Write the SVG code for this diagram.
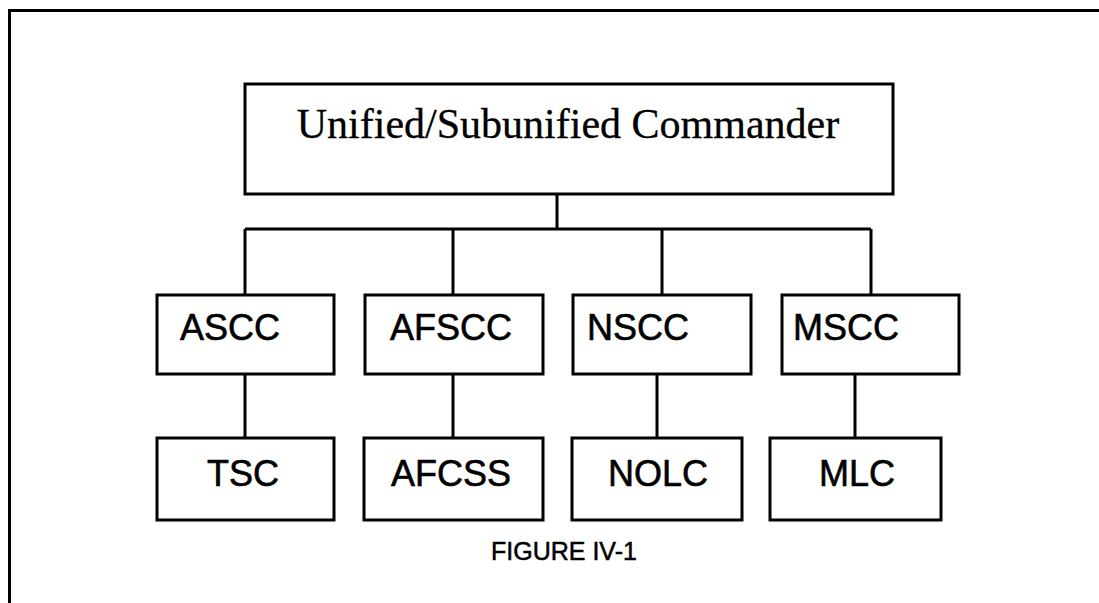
<svg xmlns="http://www.w3.org/2000/svg" width="1099" height="603" viewBox="0 0 1099 603">
<style>
.box{fill:#fff;stroke:#000;stroke-width:3}
.ln{fill:none;stroke:#000;stroke-width:3}
.t{font-family:"Liberation Sans",Arial,sans-serif;font-size:36px;fill:#000;stroke:#000;stroke-width:0.6}
.top{font-family:"Liberation Serif","Times New Roman",serif;font-size:42px;fill:#000;stroke:#000;stroke-width:0.3}
.cap{font-family:"Liberation Sans",Arial,sans-serif;font-size:25px;fill:#000;stroke:#000;stroke-width:0.5}
</style>
<rect width="1099" height="603" fill="#fff"/>
<path d="M9.5,603 V10.5 H1099" fill="none" stroke="#000" stroke-width="3"/>
<g id="connectors">
<path class="ln" d="M557,194 V229 M245,229 H871 M245,229 V295 M453,229 V295 M662,229 V295 M871,229 V295"/>
<path class="ln" d="M245,374 V438 M453,374 V438 M657,374 V438 M855,374 V438"/>
</g>
<g id="commander"><rect class="box" x="245" y="84" width="648" height="110"/><text class="top" x="568" y="138" text-anchor="middle">Unified/Subunified Commander</text></g>
<g id="ascc"><rect class="box" x="157" y="295" width="177" height="79"/><text class="t" x="180" y="340">ASCC</text></g>
<g id="afscc"><rect class="box" x="365" y="295" width="178" height="79"/><text class="t" x="390" y="340">AFSCC</text></g>
<g id="nscc"><rect class="box" x="573" y="295" width="178" height="79"/><text class="t" x="587" y="340">NSCC</text></g>
<g id="mscc"><rect class="box" x="782" y="295" width="177" height="79"/><text class="t" x="793" y="340">MSCC</text></g>
<g id="tsc"><rect class="box" x="157" y="438" width="177" height="82"/><text class="t" x="207" y="486">TSC</text></g>
<g id="afcss"><rect class="box" x="364" y="438" width="179" height="82"/><text class="t" x="391" y="486">AFCSS</text></g>
<g id="nolc"><rect class="box" x="572" y="438" width="170" height="82"/><text class="t" x="608" y="486">NOLC</text></g>
<g id="mlc"><rect class="box" x="770" y="438" width="171" height="82"/><text class="t" x="819" y="486">MLC</text></g>
<text class="cap" x="491" y="560">FIGURE IV-1</text>
</svg>
